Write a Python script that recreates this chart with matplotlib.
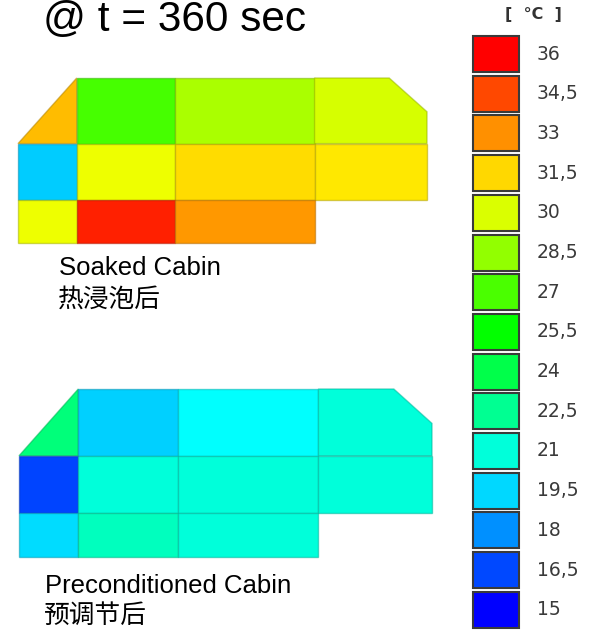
import matplotlib
matplotlib.use("Agg")
import matplotlib.pyplot as plt
import numpy as np
from matplotlib.patches import Polygon, Rectangle
from matplotlib.colors import ListedColormap, Normalize, hsv_to_rgb

plt.rcParams["font.family"] = ["Liberation Sans", "Noto Sans CJK SC", "DejaVu Sans"]

# legend steps (deg C)
legend_temps = [36, 34.5, 33, 31.5, 30, 28.5, 27, 25.5, 24, 22.5, 21, 19.5, 18, 16.5, 15]
legend_labels = ["36", "34,5", "33", "31,5", "30", "28,5", "27", "25,5", "24",
                 "22,5", "21", "19,5", "18", "16,5", "15"]

# zone temperatures, rows front->back, None = no zone
soaked = [[32.1, 26.9, 29.0, 29.9],
          [19.2, 30.4, 31.45, 31.2],
          [30.4, 35.3, 32.85, None]]
precond = [[23.0, 19.3, 20.25, 21.05],
           [16.4, 21.0, 21.05, 21.05],
           [19.55, 21.6, 21.05, None]]

title = "@ t = 360 sec"
unit = "[ °C ]"
names = [("Soaked Cabin", "热浸泡后"), ("Preconditioned Cabin", "预调节后")]

# rainbow scale: blue (15) -> red (36) by hue
hues = np.linspace(240, 0, 256) / 360
cmap = ListedColormap(hsv_to_rgb(np.column_stack([hues, np.ones(256), np.ones(256)])))
norm = Normalize(15, 36)

# cabin outline in local units
xe = [0, 59, 158, 298, 411]
ye = [0, 66, 123, 166]
cut_x, cut_y = 373, 34


def cell_poly(r, c):
    x0, x1, y0, y1 = xe[c], xe[c + 1], ye[r], ye[r + 1]
    if r == 0 and c == 0:
        return [(x0, y1), (x1, y0), (x1, y1)]
    if r == 0 and c == 3:
        return [(x0, y0), (cut_x, y0), (x1, cut_y), (x1, y1), (x0, y1)]
    return [(x0, y0), (x1, y0), (x1, y1), (x0, y1)]


def draw_cabin(ax, temps, ox, oy, sx, sy):
    for r, row in enumerate(temps):
        for c, t in enumerate(row):
            if t is None:
                continue
            pts = [(ox + x * sx, oy + y * sy) for x, y in cell_poly(r, c)]
            col = cmap(norm(t))
            edge = tuple(v * 0.7 for v in col[:3]) + (0.55,)
            ax.add_patch(Polygon(pts, closed=True, facecolor=col,
                                 edgecolor=edge, linewidth=1.0))


fig = plt.figure(figsize=(5.97, 6.33), dpi=100)
ax = fig.add_axes([0, 0, 1, 1])
ax.set_xlim(0, 597)
ax.set_ylim(633, 0)
ax.axis("off")

draw_cabin(ax, soaked, 18, 78, 409 / 411, 165 / 166)
draw_cabin(ax, precond, 19, 389, 413 / 411, 168 / 166)

ax.text(43, 31, title, fontsize=30.5, va="baseline", ha="left")

ax.text(59, 275, names[0][0], fontsize=18.5, va="baseline")
ax.text(58, 300, names[0][1], fontsize=18.5, va="center",
        family=["Noto Sans CJK SC", "DejaVu Sans"])
ax.text(45, 593, names[1][0], fontsize=18.5, va="baseline")
ax.text(44, 616, names[1][1], fontsize=18.5, va="center",
        family=["Noto Sans CJK SC", "DejaVu Sans"])

# legend column
ax.text(533, 14, unit.replace(" ", "  "), fontsize=11.5, fontweight="bold",
        ha="center", va="center", family="DejaVu Sans", color="#333333")
for i, (t, lab) in enumerate(zip(legend_temps, legend_labels)):
    y0 = 36 + i * 39.7
    ax.add_patch(Rectangle((473, y0), 46, 36, facecolor=cmap(norm(t)),
                           edgecolor="#3a3a3a", linewidth=1.5))
    ax.text(537, y0 + 18, lab, fontsize=13.5, va="center", ha="left",
            family="DejaVu Sans", color="#3a3a3a")

fig.savefig("out.png", dpi=100)
